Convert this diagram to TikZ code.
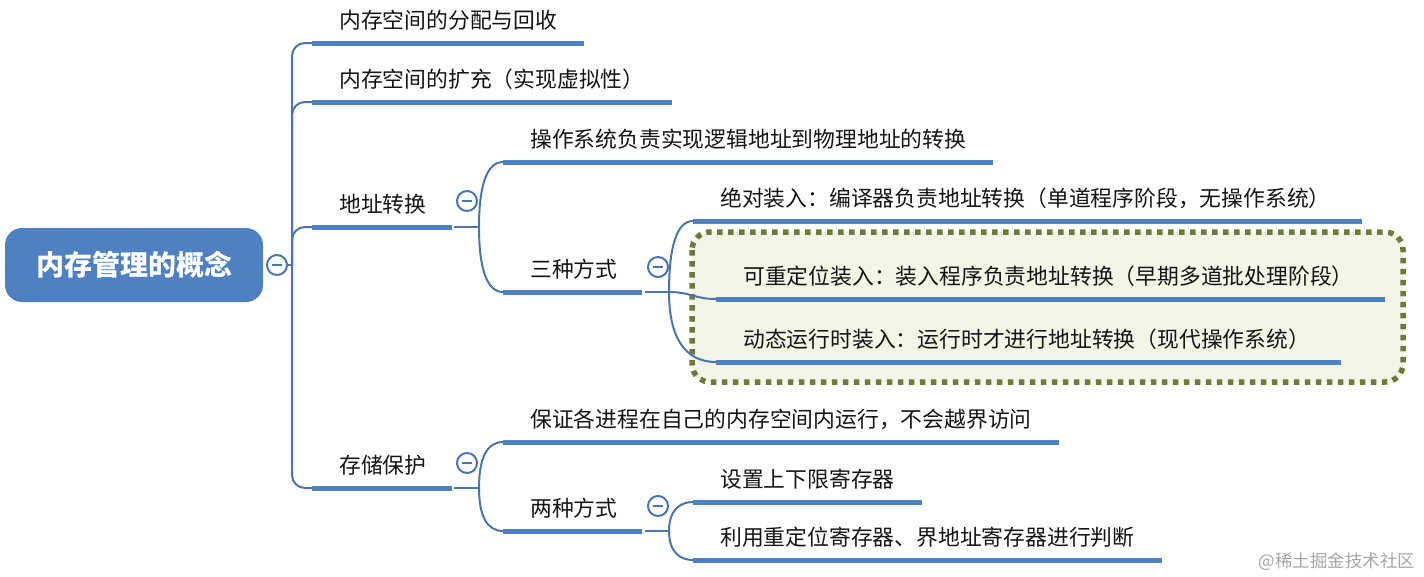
\documentclass[tikz,border=0pt]{standalone}
\usepackage{fontspec}
\usepackage{xcolor}
\usetikzlibrary{calc}
\newfontfamily\cjk{Noto Sans CJK SC}
\definecolor{mapblue}{HTML}{4E80C2}
\definecolor{linkblue}{HTML}{4A75AE}
\definecolor{olivedot}{HTML}{6E7A3A}
\definecolor{boxfill}{HTML}{F3F5E6}

\begin{document}
\begin{tikzpicture}[x=1pt, y=-1pt,
    root/.style={rounded corners=17pt, fill=mapblue, minimum width=258pt, minimum height=74pt, text=white, font=\cjk\bfseries\fontsize{28}{30}\selectfont},
    topic/.style={anchor=south west, inner xsep=27pt, inner ysep=10pt, text height=15pt, text depth=4pt, text=black!92, font=\cjk\fontsize{21.8}{24}\selectfont},
    uline/.style={draw=mapblue, line width=5pt},
    link/.style={draw=linkblue, line width=2pt},
    fold/.style={circle, draw=linkblue, line width=2pt, fill=white, minimum size=20pt, inner sep=0pt,
        path picture={\draw[linkblue, line width=2pt] ([xshift=-5pt]path picture bounding box.center) -- ([xshift=5pt]path picture bounding box.center);}}]
            \useasboundingbox (0,0) rectangle (1424,576);

            % dotted frame behind the last two load modes
            \draw[draw=olivedot, fill=boxfill, line width=5.5pt, dash pattern=on 5.5pt off 5.5pt, rounded corners=18pt] (692,232) rectangle (1403,382);

            \node[root] (mem) at (134,265) {内存管理的概念};

            \node[topic] (r1) at (312,43) {内存空间的分配与回收};
            \node[topic] (r2) at (312,102) {内存空间的扩充（实现虚拟性）};
            \node[topic] (r3) at (312,227) {地址转换};
            \node[topic] (r4) at (312,488) {存储保护};

            \node[topic] (a1) at (503,162) {操作系统负责实现逻辑地址到物理地址的转换};
            \node[topic] (a2) at (503,292) {三种方式};
            \node[topic] (b1) at (693,221) {绝对装入：编译器负责地址转换（单道程序阶段，无操作系统）};
            \node[topic] (b2) at (716,299) {可重定位装入：装入程序负责地址转换（早期多道批处理阶段）};
            \node[topic] (b3) at (716,362) {动态运行时装入：运行时才进行地址转换（现代操作系统）};

            \node[topic] (s1) at (503,442) {保证各进程在自己的内存空间内运行，不会越界访问};
            \node[topic] (s2) at (503,531) {两种方式};
            \node[topic] (c1) at (693,502) {设置上下限寄存器};
            \node[topic] (c2) at (693,560) {利用重定位寄存器、界地址寄存器进行判断};

            \foreach \n/\e in {r1/0, r2/0, r3/-2, r4/-2, a1/0, a2/-3, b1/4, b2/4, b3/4, s1/0, s2/-3, c1/0, c2/0}
                \draw[uline] (\n.south west) -- ([xshift=\e pt]\n.south east);

            \coordinate (t0) at (292,265);
            \coordinate (j3) at (479,227);
            \coordinate (j4) at (479,488);
            \coordinate (j5) at (669,292);
            \coordinate (j6) at (669,531);

            \node[fold] (f0) at (277,265) {};
            \draw[link] (f0.east) -- (t0);
            \foreach \n in {r1, r2, r3, r4}
                \draw[link, rounded corners=13pt] (t0) |- (\n.south west);

            \draw[link] (r3.south east) -- (j3);
            \draw[link] (j3) .. controls +(0,-42) and +(-16,0) .. (a1.south west);
            \draw[link] (j3) .. controls +(0,42) and +(-16,0) .. (a2.south west);

            \draw[link] (a2.south east) -- (j5);
            \draw[link] (j5) .. controls +(0,-46) and +(-16,0) .. (b1.south west);
            \draw[link] (j5) .. controls +(22,0) and +(-22,0) .. (b2.south west);
            \draw[link] (j5) .. controls +(0,44) and +(-32,0) .. (b3.south west);

            \draw[link] (r4.south east) -- (j4);
            \draw[link] (j4) .. controls +(0,-30) and +(-16,0) .. (s1.south west);
            \draw[link] (j4) .. controls +(0,28) and +(-16,0) .. (s2.south west);

            \draw[link] (s2.south east) -- (j6);
            \draw[link] (j6) .. controls +(0,-20) and +(-14,0) .. (c1.south west);
            \draw[link] (j6) .. controls +(0,20) and +(-14,0) .. (c2.south west);

            \node[fold] (f3) at (467,201) {};
            \node[fold] (f4) at (467,463) {};
            \node[fold] (f5) at (658,267) {};
            \node[fold] (f6) at (658,506) {};

            \node[anchor=east, text=black!35, font=\cjk\fontsize{17.5}{20}\selectfont] (mark) at (1419,562) {@稀土掘金技术社区};
        \end{tikzpicture}
\end{document}
